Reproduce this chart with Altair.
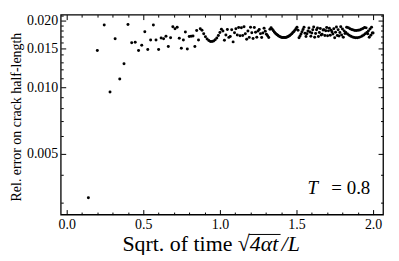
import altair as alt
import pandas as pd

# time values (t) of the samples; x axis shows sqrt(t)
time_vals = [
    0.02, 0.04, 0.06, 0.08, 0.10, 0.12, 0.14, 0.16, 0.18, 0.20,
    0.22, 0.24, 0.26, 0.28, 0.30, 0.32, 0.34, 0.36, 0.38, 0.40,
    0.42, 0.44, 0.46, 0.48, 0.50, 0.52, 0.54, 0.56, 0.58, 0.60,
    0.62, 0.64, 0.66, 0.68, 0.70, 0.72, 0.74, 0.76, 0.78, 0.80,
    0.82, 0.84, 0.86, 0.88, 0.90, 0.92, 0.94, 0.96, 0.98, 1.00,
    1.02, 1.04, 1.06, 1.08, 1.10, 1.12, 1.14, 1.16, 1.18, 1.20,
    1.22, 1.24, 1.26, 1.28, 1.30, 1.32, 1.34, 1.36, 1.38, 1.40,
    1.42, 1.44, 1.46, 1.48, 1.50, 1.52, 1.54, 1.56, 1.58, 1.60,
    1.62, 1.64, 1.66, 1.68, 1.70, 1.72, 1.74, 1.76, 1.78, 1.80,
    1.82, 1.84, 1.86, 1.88, 1.90, 1.92, 1.94, 1.96, 1.98, 2.00,
    2.02, 2.04, 2.06, 2.08, 2.10, 2.12, 2.14, 2.16, 2.18, 2.20,
    2.22, 2.24, 2.26, 2.28, 2.30, 2.32, 2.34, 2.36, 2.38, 2.40,
    2.42, 2.44, 2.46, 2.48, 2.50, 2.52, 2.54, 2.56, 2.58, 2.60,
    2.62, 2.64, 2.66, 2.68, 2.70, 2.72, 2.74, 2.76, 2.78, 2.80,
    2.82, 2.84, 2.86, 2.88, 2.90, 2.92, 2.94, 2.96, 2.98, 3.00,
    3.02, 3.04, 3.06, 3.08, 3.10, 3.12, 3.14, 3.16, 3.18, 3.20,
    3.22, 3.24, 3.26, 3.28, 3.30, 3.32, 3.34, 3.36, 3.38, 3.40,
    3.42, 3.44, 3.46, 3.48, 3.50, 3.52, 3.54, 3.56, 3.58, 3.60,
    3.62, 3.64, 3.66, 3.68, 3.70, 3.72, 3.74, 3.76, 3.78, 3.80,
    3.82, 3.84, 3.86, 3.88, 3.90, 3.92, 3.94, 3.96, 3.98, 4.00,
]

rel_error = [
    0.00316, 0.01466, 0.0191, 0.0095, 0.01655, 0.01088, 0.01277, 0.0192, 0.01588, 0.01596,
    0.01466, 0.01548, 0.01783, 0.0148, 0.01636, 0.01913, 0.01636, 0.0148, 0.01671, 0.01655,
    0.01699, 0.01527, 0.01674, 0.01875, 0.0184, 0.01866, 0.01664, 0.0150, 0.01636, 0.01777,
    0.01487, 0.01694, 0.0170, 0.01705, 0.01527, 0.01803, 0.01636, 0.01838, 0.01809, 0.01743,
    0.01690, 0.01651, 0.01625, 0.01611, 0.01609, 0.01619, 0.01639, 0.01671, 0.01713, 0.01766,
    0.01829, 0.01797, 0.01632, 0.01722, 0.01822, 0.01680, 0.01696, 0.01821, 0.01603, 0.01763,
    0.01840, 0.01723, 0.01862, 0.01707, 0.01858, 0.01714, 0.01877, 0.01745, 0.01649, 0.01797,
    0.01680, 0.01869, 0.01762, 0.01661, 0.01864, 0.01772, 0.01684, 0.01797, 0.01822, 0.01747,
    0.01677, 0.01759, 0.01848, 0.01790, 0.01735, 0.01709, 0.01676, 0.01829, 0.01858, 0.01827,
    0.01799, 0.01774, 0.01751, 0.01732, 0.01716, 0.01702, 0.01691, 0.01683, 0.01678, 0.01676,
    0.01676, 0.01678, 0.01683, 0.01691, 0.01701, 0.01714, 0.01729, 0.01746, 0.01766, 0.01788,
    0.01812, 0.01839, 0.01867, 0.01809, 0.01675, 0.01704, 0.01741, 0.01781, 0.01822, 0.01866,
    0.01754, 0.01697, 0.01746, 0.01797, 0.01851, 0.01777, 0.01701, 0.01759, 0.01820, 0.01871,
    0.01684, 0.01750, 0.01818, 0.01851, 0.01696, 0.01769, 0.01843, 0.01723, 0.01735, 0.01814,
    0.01819, 0.01715, 0.01799, 0.01860, 0.01710, 0.01798, 0.01846, 0.01718, 0.01810, 0.01779,
    0.01739, 0.01836, 0.01672, 0.01773, 0.01874, 0.01715, 0.01819, 0.01704, 0.01769, 0.01877,
    0.01724, 0.01835, 0.01684, 0.01798, 0.01750, 0.01766, 0.01867, 0.01739, 0.01858, 0.01717,
    0.01839, 0.01699, 0.01824, 0.01687, 0.01813, 0.01678, 0.01807, 0.01675, 0.01806, 0.01675,
    0.01808, 0.01680, 0.01816, 0.01689, 0.01827, 0.01703, 0.01843, 0.01721, 0.01862, 0.01743,
    0.01855, 0.01768, 0.01745, 0.01798, 0.01683, 0.01832, 0.01719, 0.01869, 0.01758, 0.01758,
]

x_major = [0.0, 0.5, 1.0, 1.5, 2.0]
x_minor = [0.1, 0.2, 0.3, 0.4, 0.6, 0.7, 0.8, 0.9, 1.1, 1.2, 1.3, 1.4,
           1.6, 1.7, 1.8, 1.9]
y_major = [0.005, 0.010, 0.015, 0.020]
y_minor = [0.003, 0.004, 0.006, 0.007, 0.008, 0.009, 0.011, 0.012, 0.013,
           0.014, 0.016, 0.017, 0.018, 0.019, 0.021]

y_title = "Rel. error on crack half-length"
x_title_a = "Sqrt. of time"
x_title_root = "\u221a"
x_title_b = "4\u03b1t"
x_title_c = "/L"
param_sym = "T"
param_txt = "= 0.8"

df = pd.DataFrame({"t": time_vals, "err": rel_error})

W, H = 324, 201
FONT = "Liberation Serif"
xs = alt.Scale(domain=[-0.039, 2.065], nice=False, zero=False)
ys = alt.Scale(type="log", domain=[0.00265, 0.0213], nice=False)

base = alt.Chart(df).transform_calculate(sx="sqrt(datum.t)")


def ax(orient, values, size, labels, fmt):
    kw = dict(orient=orient, values=values, tickSize=size, offset=-size,
              domain=False, grid=False, ticks=True, tickColor="black",
              tickWidth=1, title=None, labels=labels)
    if labels:
        kw.update(format=fmt, labelFont=FONT, labelFontSize=14,
                  labelColor="black", labelPadding=3)
    return alt.Axis(**kw)


points = base.mark_circle(size=9, color="black", opacity=1).encode(
    x=alt.X("sx:Q", scale=xs, axis=ax("bottom", x_major, 5, True, ".1f")),
    y=alt.Y("err:Q", scale=ys, axis=ax("left", y_major, 5, True, ".3f")),
)
minor1 = base.mark_point(opacity=0).encode(
    x=alt.X("sx:Q", scale=xs, axis=ax("bottom", x_minor, 2.5, False, "")),
    y=alt.Y("err:Q", scale=ys, axis=ax("left", y_minor, 2.5, False, "")),
)
top1 = base.mark_point(opacity=0).encode(
    x=alt.X("sx:Q", scale=xs, axis=ax("top", x_major, 5, False, "")),
    y=alt.Y("err:Q", scale=ys, axis=ax("right", y_major, 5, False, "")),
)
top2 = base.mark_point(opacity=0).encode(
    x=alt.X("sx:Q", scale=xs, axis=ax("top", x_minor, 2.5, False, "")),
    y=alt.Y("err:Q", scale=ys, axis=ax("right", y_minor, 2.5, False, "")),
)

tdf = pd.DataFrame({"a": [0]})


def txt(s, x, y, size, italic=False, align="left", angle=0, baseline="alphabetic"):
    kw = dict(text=s, font=FONT, fontSize=size, align=align,
              baseline=baseline, color="black")
    if italic:
        kw["fontStyle"] = "italic"
    if angle:
        kw["angle"] = angle
    return alt.Chart(tdf).mark_text(**kw).encode(x=alt.value(x), y=alt.value(y))


ytitle = txt(y_title, -44, 103, 14, align="center", angle=270, baseline="middle")
XS = 22
xt_a = txt(x_title_a, 62, 238, XS)
xt_r = txt(x_title_root, 178, 238, XS)
xt_b = txt(x_title_b, 190, 238, XS, italic=True)
xt_c = txt(x_title_c, 222, 238, XS, italic=True)
overline = alt.Chart(tdf).mark_rule(color="black", strokeWidth=1).encode(
    x=alt.value(189), x2=alt.value(221), y=alt.value(221))
p_sym = txt(param_sym, 248, 180, 19, italic=True)
p_txt = txt(param_txt, 272, 180, 19)

chart = alt.layer(
    points, minor1, top1, top2, ytitle, xt_a, xt_r, xt_b, xt_c, overline,
    p_sym, p_txt
).resolve_axis(x="independent", y="independent").properties(
    width=W, height=H,
    autosize=alt.AutoSizeParams(type="none"),
    padding={"left": 53, "top": 6, "right": 8, "bottom": 40},
).configure_view(stroke="black", strokeWidth=1.3)

chart.save("out.html", embed_options={"renderer": "svg", "actions": False})
